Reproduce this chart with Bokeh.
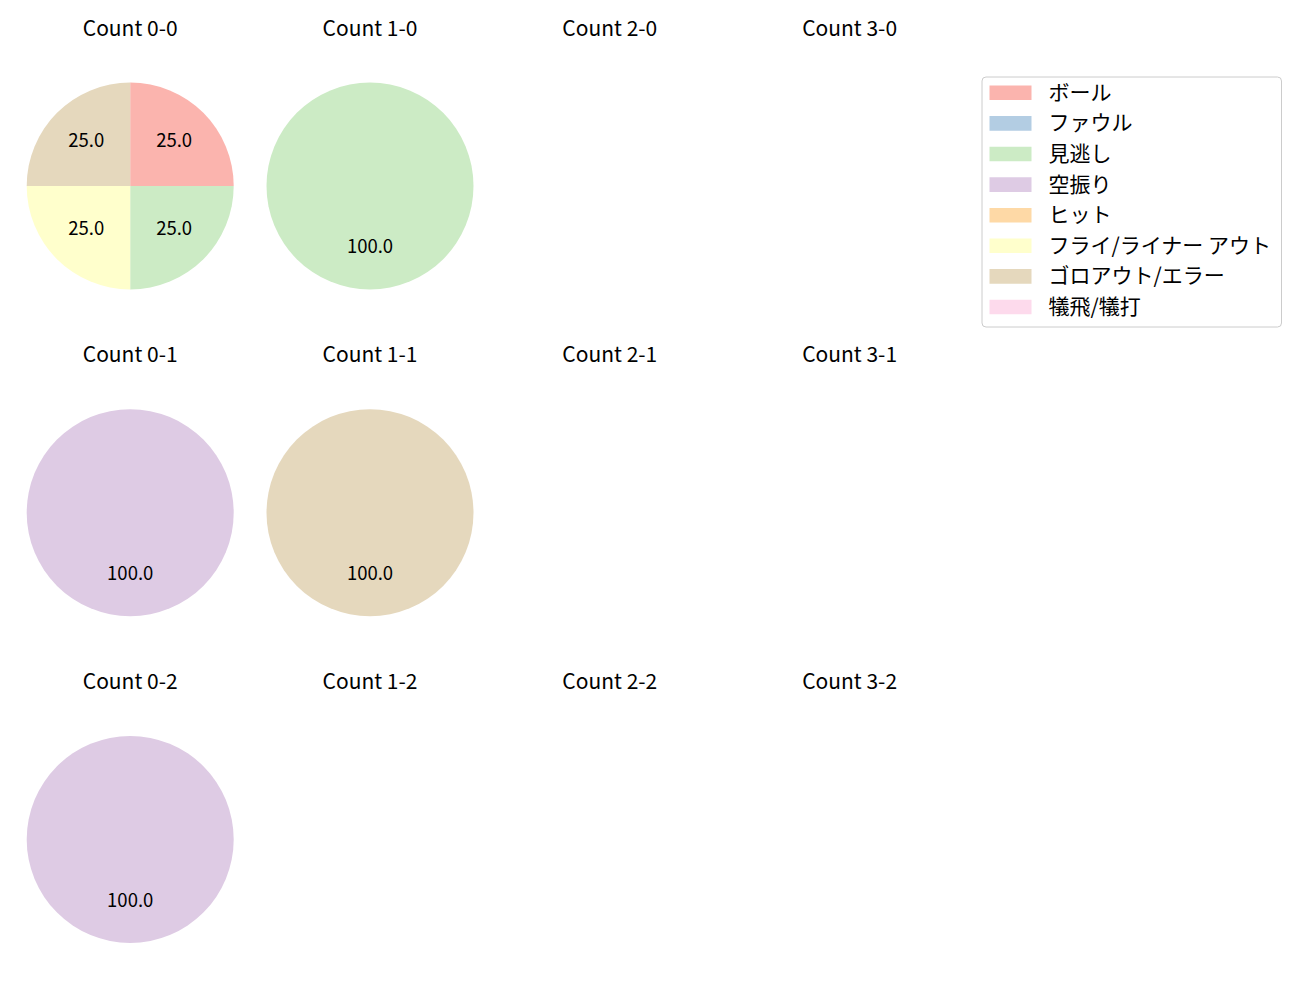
import math
from bokeh.plotting import figure
from bokeh.models import Range1d
from bokeh.core.properties import value
from bokeh.embed import file_html
from bokeh.resources import INLINE

# ---- data ----
categories = ["ボール", "ファウル", "見逃し", "空振り", "ヒット",
              "フライ/ライナー アウト", "ゴロアウト/エラー", "犠飛/犠打"]
colors = ["#fbb4ae", "#b3cde3", "#ccebc5", "#decbe4", "#fed9a6",
          "#ffffcc", "#e5d8bd", "#fddaec"]
balls = [0, 1, 2, 3]
strikes = [0, 1, 2]
count_0_0 = [1, 0, 1, 0, 0, 1, 1, 0]
count_1_0 = [0, 0, 1, 0, 0, 0, 0, 0]
count_2_0 = [0, 0, 0, 0, 0, 0, 0, 0]
count_3_0 = [0, 0, 0, 0, 0, 0, 0, 0]
count_0_1 = [0, 0, 0, 1, 0, 0, 0, 0]
count_1_1 = [0, 0, 0, 0, 0, 0, 1, 0]
count_2_1 = [0, 0, 0, 0, 0, 0, 0, 0]
count_3_1 = [0, 0, 0, 0, 0, 0, 0, 0]
count_0_2 = [0, 0, 0, 1, 0, 0, 0, 0]
count_1_2 = [0, 0, 0, 0, 0, 0, 0, 0]
count_2_2 = [0, 0, 0, 0, 0, 0, 0, 0]
count_3_2 = [0, 0, 0, 0, 0, 0, 0, 0]
counts = {
    (0, 0): count_0_0, (1, 0): count_1_0, (2, 0): count_2_0, (3, 0): count_3_0,
    (0, 1): count_0_1, (1, 1): count_1_1, (2, 1): count_2_1, (3, 1): count_3_1,
    (0, 2): count_0_2, (1, 2): count_1_2, (2, 2): count_2_2, (3, 2): count_3_2,
}

# ---- layout (pixel space of the picture) ----
W, H = 1300, 1000
FW, FH = W - 16, H - 16
FONT = "Noto Sans CJK JP"
col_x0, col_dx = 129.7, 239.8
row_y0, row_dy = 185.5, 326.7
R = 103.5
TXT_DY = 2.0  # optical shift of text centres

def Y(yp):
    return H - yp

p = figure(width=FW, height=FH, output_backend="svg", toolbar_location=None,
           x_range=Range1d(0, FW), y_range=Range1d(H - FH, H), min_border=0)
p.axis.visible = False
p.grid.visible = False
p.outline_line_color = None
p.background_fill_color = "white"
p.border_fill_color = "white"

for (b, s), vals in counts.items():
    cx = col_x0 + b * col_dx
    cy = row_y0 + s * row_dy
    p.text(x=[cx], y=[Y(cy - 157.5 - TXT_DY)], text=[f"Count {b}-{s}"],
           text_font=value(FONT), text_font_size="21px", text_color="black",
           text_align="center", text_baseline="middle")
    total = sum(vals)
    if total == 0:
        continue
    cum = 0.0
    for i, v in enumerate(vals):
        if v == 0:
            continue
        frac0 = cum / total
        cum += v
        frac1 = cum / total
        start = 90 - frac1 * 360
        end = 90 - frac0 * 360
        if frac1 - frac0 >= 0.9999:
            p.circle(x=[cx], y=[Y(cy)], radius=R, fill_color=colors[i], line_color=None)
        else:
            p.wedge(x=[cx], y=[Y(cy)], radius=R, start_angle=start, end_angle=end,
                    start_angle_units="deg", end_angle_units="deg", direction="anticlock",
                    fill_color=colors[i], line_color=None)
        mid = math.radians((start + end) / 2)
        lx = cx + 0.6 * R * math.cos(mid)
        ly = Y(cy) + 0.6 * R * math.sin(mid) + TXT_DY
        p.text(x=[lx], y=[ly], text=[f"{100.0 * v / total:.1f}"],
               text_font=value(FONT), text_font_size="18.5px", text_color="black",
               text_align="center", text_baseline="middle")

# ---- legend ----
lg_l, lg_r, lg_t, lg_b = 981.5, 1281, 76.5, 326.5
p.quad(left=[lg_l], right=[lg_r], top=[Y(lg_t)], bottom=[Y(lg_b)],
       fill_color="white", fill_alpha=0.8, line_color="#cccccc", line_width=1,
       border_radius=4)
row0, drow = 92.3, 30.6
for i, (name, c) in enumerate(zip(categories, colors)):
    ry = row0 + i * drow
    p.quad(left=[989], right=[1031], top=[Y(ry - 7.3)], bottom=[Y(ry + 7.3)],
           fill_color=c, line_color=None)
    p.text(x=[1048], y=[Y(ry - TXT_DY)], text=[name], text_font=value(FONT),
           text_font_size="21px", text_color="black",
           text_align="left", text_baseline="middle")

open("out.html", "w").write(file_html(p, INLINE))
